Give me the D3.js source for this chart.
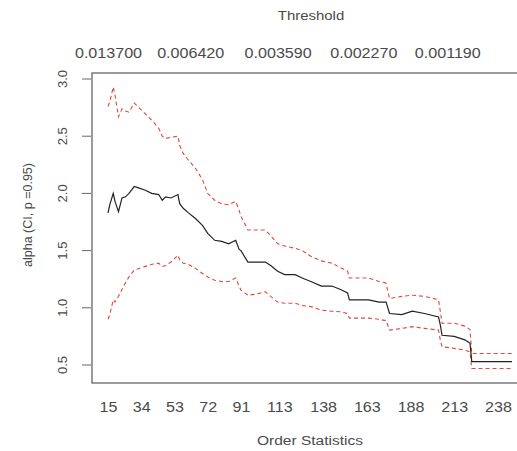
<!DOCTYPE html>
<html>
<head>
<meta charset="utf-8">
<script src="https://cdn.jsdelivr.net/npm/d3@7"></script>
<style>
  body { margin: 0; background: #fff; }
  svg { display: block; font-family: "Liberation Sans", Arial, sans-serif; }
</style>
</head>
<body>
<div id="chart"></div>
<script>
// order statistics k (x) and the Hill estimate with its 95% CI bounds
const orderStats = [15, 16, 18, 19, 21, 23, 25, 27, 30, 32, 36, 40, 44, 46, 48, 51, 55, 56, 58, 61,
  65, 69, 72, 76, 80, 84, 88, 90, 91, 95, 100, 105, 108, 112, 116, 122, 126, 131, 137, 143,
  148, 152, 153, 160, 164, 170, 173, 174, 176, 183, 189, 196, 204, 205, 206, 213, 219, 221, 222, 223,
  230, 238, 246];
const alphaEst = [1.83, 1.90, 2.00, 1.93, 1.84, 1.96, 1.97, 2.00, 2.06, 2.05, 2.03, 2.00, 1.99, 1.94, 1.97, 1.96, 1.99, 1.91, 1.87, 1.83,
  1.78, 1.72, 1.65, 1.59, 1.58, 1.56, 1.59, 1.51, 1.50, 1.40, 1.40, 1.40, 1.37, 1.32, 1.29, 1.29, 1.26, 1.23, 1.19, 1.19,
  1.16, 1.13, 1.07, 1.07, 1.07, 1.05, 1.05, 1.05, 0.95, 0.94, 0.97, 0.95, 0.92, 0.85, 0.76, 0.75, 0.72, 0.70, 0.69, 0.53,
  0.53, 0.53, 0.53];
const alphaUpper = [2.76, 2.80, 2.93, 2.86, 2.67, 2.74, 2.72, 2.71, 2.79, 2.76, 2.70, 2.64, 2.57, 2.50, 2.48, 2.49, 2.50, 2.42, 2.35, 2.29,
  2.22, 2.12, 2.00, 1.94, 1.91, 1.90, 1.93, 1.85, 1.80, 1.68, 1.68, 1.68, 1.63, 1.56, 1.54, 1.52, 1.50, 1.45, 1.41, 1.39,
  1.35, 1.32, 1.26, 1.26, 1.26, 1.23, 1.22, 1.215, 1.08, 1.10, 1.11, 1.10, 1.07, 0.97, 0.865, 0.865, 0.84, 0.82, 0.81, 0.60,
  0.60, 0.60, 0.60];
const alphaLower = [0.90, 0.94, 1.07, 1.05, 1.10, 1.16, 1.22, 1.27, 1.33, 1.34, 1.36, 1.38, 1.39, 1.36, 1.37, 1.40, 1.46, 1.42, 1.39, 1.38,
  1.345, 1.30, 1.27, 1.24, 1.23, 1.23, 1.26, 1.19, 1.155, 1.11, 1.12, 1.14, 1.10, 1.05, 1.04, 1.04, 1.02, 1.01, 0.98, 0.97,
  0.965, 0.95, 0.91, 0.91, 0.91, 0.90, 0.89, 0.89, 0.805, 0.82, 0.835, 0.82, 0.805, 0.72, 0.66, 0.645, 0.63, 0.62, 0.615, 0.47,
  0.47, 0.47, 0.47];

const bottomTicks = [15, 34, 53, 72, 91, 113, 138, 163, 188, 213, 238];
const topTicks = [15, 62, 112, 161, 209];
const topLabels = ["0.013700", "0.006420", "0.003590", "0.002270", "0.001190"];
const yTicks = [0.5, 1.0, 1.5, 2.0, 2.5, 3.0];

const width = 517, height = 451;
const box = { left: 92, top: 73, right: 530, bottom: 383 };
const stretch = "scale(1.15,1)"; // the reference text is a bit wide

const svg = d3.select("#chart").append("svg")
    .attr("width", width)
    .attr("height", height);

const x = d3.scaleLinear().domain([15, 238]).range([108, 498]);
const y = d3.scaleLinear().domain([0.5, 3.0]).range([365, 79]);

const textColor = "#4a4a4a";

// plot frame
svg.append("rect")
    .attr("x", box.left).attr("y", box.top)
    .attr("width", box.right - box.left).attr("height", box.bottom - box.top)
    .attr("fill", "none").attr("stroke", "#666").attr("stroke-width", 1.3);

// y axis
const gy = svg.append("g")
    .attr("transform", `translate(${box.left - 1},0)`)
    .call(d3.axisLeft(y).tickValues(yTicks).tickFormat(d3.format(".1f")).tickSize(9).tickPadding(6))
    .call(g => g.select(".domain").remove());
gy.selectAll("line").attr("stroke", "#666");
gy.selectAll("text")
    .attr("x", null).attr("dy", null)
    .attr("transform", d => `translate(-24,${y(d)}) rotate(-90)`)
    .attr("y", 0)
    .style("text-anchor", "middle")
    .attr("fill", textColor)
    .style("font-size", "13px");
gy.selectAll(".tick").attr("transform", null);
gy.selectAll(".tick line").attr("y1", d => y(d)).attr("y2", d => y(d));

// bottom axis, no tick marks
const gx = svg.append("g")
    .attr("transform", `translate(0,${box.bottom})`)
    .call(d3.axisBottom(x).tickValues(bottomTicks).tickSize(0).tickPadding(19))
    .call(g => g.select(".domain").remove());
gx.selectAll("text").attr("fill", textColor).style("font-size", "14px").attr("transform", stretch);

// top axis with thresholds
const gt = svg.append("g")
    .attr("transform", `translate(0,${box.top})`)
    .call(d3.axisTop(x).tickValues(topTicks).tickFormat((d, i) => topLabels[i]).tickSize(0).tickPadding(15))
    .call(g => g.select(".domain").remove());
gt.selectAll("text").attr("fill", textColor).style("font-size", "14px").attr("transform", stretch);

svg.selectAll(".tick text").style("font-family", "'Liberation Sans', Arial, sans-serif");

// axis titles
svg.append("text")
    .attr("transform", `translate(311,20) ${stretch}`)
    .attr("text-anchor", "middle")
    .attr("fill", textColor)
    .style("font-size", "13px")
    .text("Threshold");

svg.append("text")
    .attr("transform", `translate(310,445) ${stretch}`)
    .attr("text-anchor", "middle")
    .attr("fill", textColor)
    .style("font-size", "13.5px")
    .text("Order Statistics");

svg.append("text")
    .attr("transform", `translate(32,215) rotate(-90)`)
    .attr("text-anchor", "middle")
    .attr("fill", textColor)
    .style("font-size", "12.5px")
    .text("alpha (CI, p =0.95)");

// lines
const line = (vals) => d3.line()
    .x((d, i) => x(orderStats[i]))
    .y(d => y(d))(vals);

svg.append("path")
    .attr("d", line(alphaUpper))
    .attr("fill", "none").attr("stroke", "#e0473f").attr("stroke-width", 1.1)
    .attr("stroke-dasharray", "4,3");
svg.append("path")
    .attr("d", line(alphaLower))
    .attr("fill", "none").attr("stroke", "#e0473f").attr("stroke-width", 1.1)
    .attr("stroke-dasharray", "4,3");
svg.append("path")
    .attr("d", line(alphaEst))
    .attr("fill", "none").attr("stroke", "#222").attr("stroke-width", 1.2);
</script>
</body>
</html>
